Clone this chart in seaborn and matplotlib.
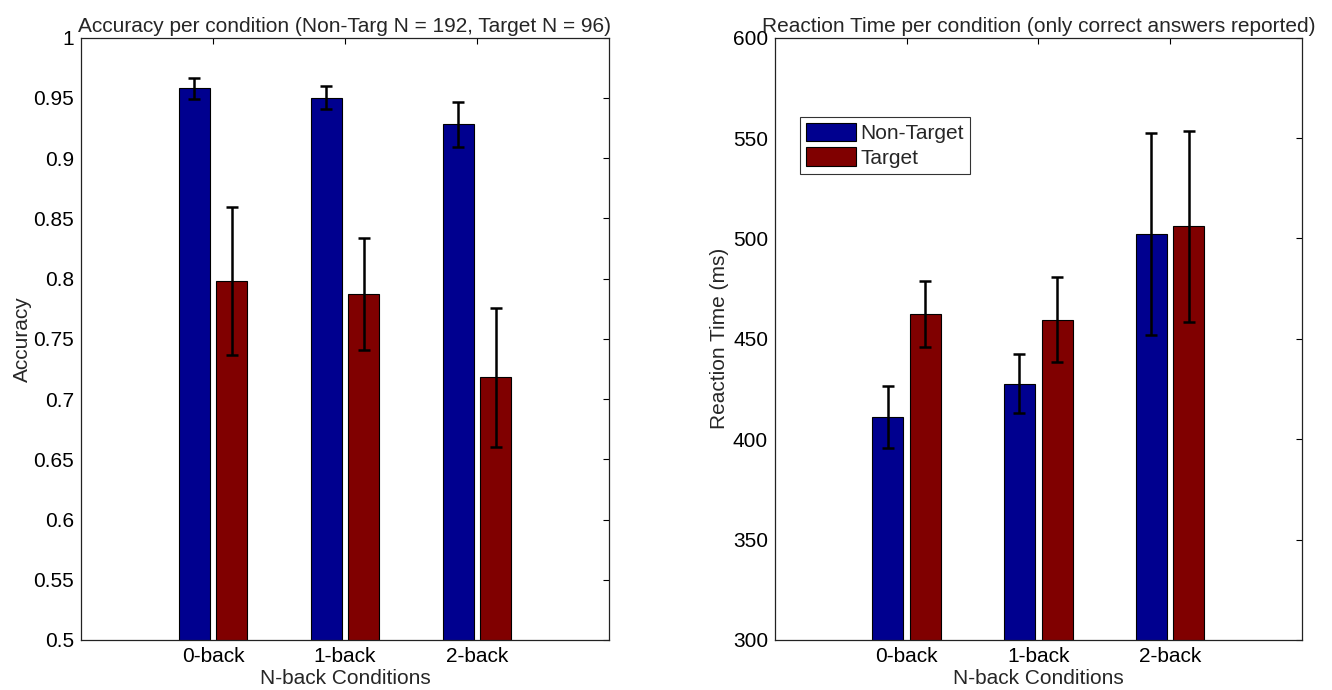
import pandas as pd
import matplotlib
matplotlib.use("Agg")
import matplotlib.pyplot as plt
import seaborn as sns

conditions = ["0-back", "1-back", "2-back"]
trial_types = ["Non-Target", "Target"]

acc_nontarget = [0.958, 0.950, 0.928]
acc_nontarget_err = [0.0086, 0.0095, 0.0184]
acc_target = [0.798, 0.787, 0.718]
acc_target_err = [0.0617, 0.0464, 0.0578]

rt_nontarget = [411.2, 427.7, 502.0]
rt_nontarget_err = [15.5, 14.5, 50.3]
rt_target = [462.5, 459.5, 506.0]
rt_target_err = [16.5, 21.2, 47.7]

bar_colors = ["#00008f", "#800000"]

sns.set_style("white")
plt.rcParams["font.family"] = ["Liberation Sans", "DejaVu Sans"]
plt.rcParams["font.size"] = 15
FS = 15


def make_df(vals_nt, vals_t, errs_nt, errs_t, col):
    rows = []
    for c, v, e in zip(conditions, vals_nt, errs_nt):
        rows.append({"condition": c, "type": "Non-Target", col: v, "err": e})
    for c, v, e in zip(conditions, vals_t, errs_t):
        rows.append({"condition": c, "type": "Target", col: v, "err": e})
    return pd.DataFrame(rows)


def draw_panel(ax, df, col, errs, ylim, yticks, ylabels, title, ylabel, ypad):
    sns.barplot(data=df, x="condition", y=col, hue="type", hue_order=trial_types,
                order=conditions, palette=bar_colors, width=0.572, gap=0.175,
                errorbar=None, edgecolor="black", linewidth=0.8, saturation=1,
                legend=False, ax=ax)
    # error bars placed on the centres of the bars seaborn drew
    for cont, err in zip(ax.containers, errs):
        xs = [b.get_x() + b.get_width() / 2 for b in cont]
        ys = [b.get_height() for b in cont]
        ax.errorbar(xs, ys, yerr=err, fmt="none", ecolor="black",
                    elinewidth=1.8, capsize=4, capthick=1.8, zorder=5)
    ax.set_xlim(-1, 3)
    ax.set_ylim(*ylim)
    ax.set_yticks(yticks)
    ax.set_yticklabels(ylabels)
    ax.set_title(title, fontsize=FS, pad=4)
    ax.set_xlabel("N-back Conditions", fontsize=FS, labelpad=2)
    ax.set_ylabel(ylabel, fontsize=FS, labelpad=ypad)
    ax.tick_params(direction="in", length=4.5, width=0.8, top=True, right=True,
                   labelsize=FS, pad=5, colors="black")
    for s in ax.spines.values():
        s.set_visible(True)
        s.set_color("#222222")
        s.set_linewidth(0.9)


fig = plt.figure(figsize=(13.32, 6.9), dpi=100)
ax1 = fig.add_axes([0.0608, 0.0725, 0.3964, 0.8729])
ax2 = fig.add_axes([0.5818, 0.0725, 0.3954, 0.8729])

acc_df = make_df(acc_nontarget, acc_target, acc_nontarget_err, acc_target_err, "acc")
acc_ticks = [0.5 + 0.05 * i for i in range(11)]
acc_labels = ["0.5", "0.55", "0.6", "0.65", "0.7", "0.75", "0.8", "0.85", "0.9", "0.95", "1"]
draw_panel(ax1, acc_df, "acc", [acc_nontarget_err, acc_target_err], (0.5, 1),
           acc_ticks, acc_labels,
           "Accuracy per condition (Non-Targ N = 192, Target N = 96)", "Accuracy", 1)

rt_df = make_df(rt_nontarget, rt_target, rt_nontarget_err, rt_target_err, "rt")
rt_ticks = [300, 350, 400, 450, 500, 550, 600]
draw_panel(ax2, rt_df, "rt", [rt_nontarget_err, rt_target_err], (300, 600),
           rt_ticks, [str(t) for t in rt_ticks],
           "Reaction Time per condition (only correct answers reported)", "Reaction Time (ms)", 3)

handles = [plt.Rectangle((0, 0), 1, 1, facecolor=c, edgecolor="black", linewidth=0.8)
           for c in bar_colors]
leg = ax2.legend(handles, trial_types, loc="upper left", bbox_to_anchor=(0.047, 0.869),
                 borderaxespad=0, frameon=True, fancybox=False, fontsize=FS,
                 handlelength=2.4, handleheight=1.0, handletextpad=0.2,
                 labelspacing=0.2, borderpad=0.3)
leg.get_frame().set_edgecolor("black")
leg.get_frame().set_linewidth(0.8)

fig.savefig("out.png", dpi=100, facecolor="white")
